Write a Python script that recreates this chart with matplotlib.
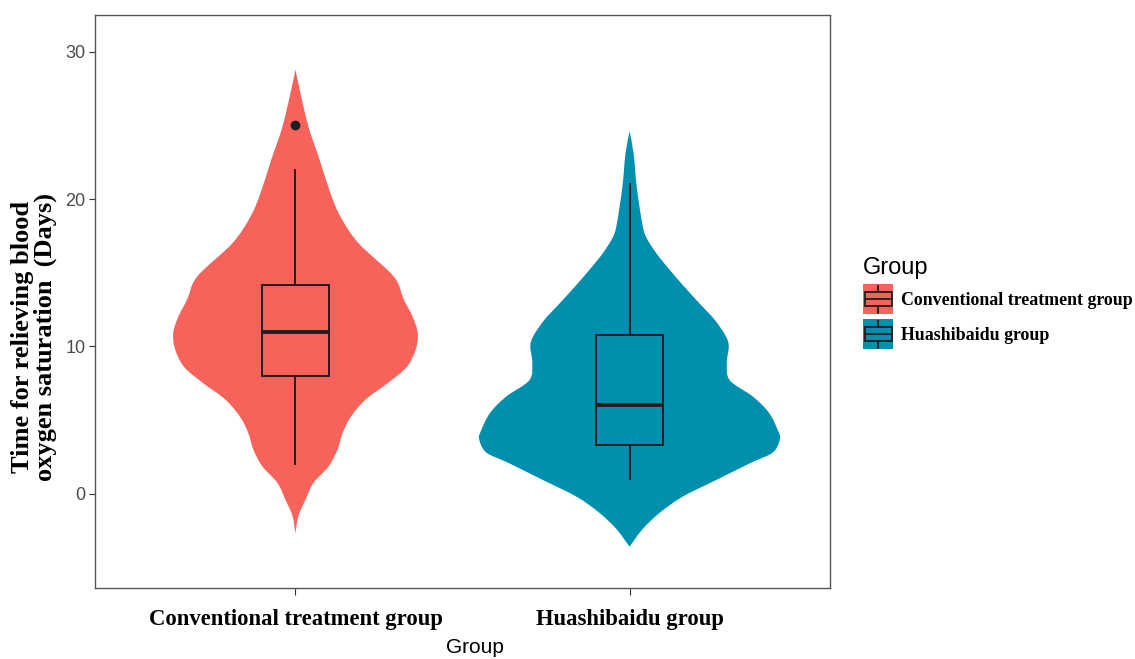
import numpy as np
import matplotlib
matplotlib.use("Agg")
import matplotlib.pyplot as plt
from matplotlib.patches import Rectangle, Patch, PathPatch
from matplotlib.path import Path
from matplotlib.lines import Line2D
from matplotlib.legend_handler import HandlerBase

# Groups and colours
groups = ["Conventional treatment group", "Huashibaidu group"]
colors = ["#F7625B", "#0090AE"]

# Violin outlines: value (days) and relative density width
conv_y = [28.8, 27.2, 24.9, 22.7, 20.4, 18.8, 17.0, 14.75, 13.2, 12.0, 10.9, 9.8,
          8.6, 7.5, 6.4, 5.2, 4.1, 3.0, 1.85, 0.74, -0.4, -1.5, -2.7]
conv_w = [0.0, 0.033, 0.087, 0.16, 0.233, 0.30, 0.42, 0.653, 0.72, 0.78, 0.813, 0.80,
          0.74, 0.613, 0.467, 0.367, 0.313, 0.28, 0.22, 0.12, 0.067, 0.02, 0.0]
huas_y = [24.6, 23.1, 20.9, 18.6, 17.5, 16.3, 15.2, 14.1, 12.9, 11.8, 10.7, 10.0,
          8.9, 7.7, 6.6, 5.5, 4.3, 3.7, 2.8, 2.1, 0.95, -0.2, -1.3, -2.4, -3.6]
huas_w = [0.0, 0.027, 0.047, 0.08, 0.107, 0.18, 0.267, 0.36, 0.467, 0.567, 0.64, 0.66,
          0.647, 0.667, 0.82, 0.927, 0.987, 1.0, 0.953, 0.807, 0.58, 0.353, 0.20, 0.087, 0.0]

# Box plot statistics
q1 = [8.0, 3.3]
medians = [11.0, 6.0]
q3 = [14.2, 10.8]
whisker_lo = [2.0, 1.0]
whisker_hi = [22.0, 21.0]
outliers = [[25.0], []]

violin_y = [conv_y, huas_y]
violin_w = [conv_w, huas_w]

SERIF = ["Liberation Serif", "DejaVu Serif"]
SANS = ["Liberation Sans", "DejaVu Sans"]
EDGE = "#1f1f1f"


def bezier_side(pts):
    """Catmull-Rom style curve through pts, as cubic bezier segments."""
    pts = np.asarray(pts, dtype=float)
    ext = np.vstack([pts[0], pts, pts[-1]])
    verts, codes = [], []
    for i in range(1, len(ext) - 2):
        p0, p1, p2, p3 = ext[i - 1], ext[i], ext[i + 1], ext[i + 2]
        verts += [p1 + (p2 - p0) / 6, p2 - (p3 - p1) / 6, p2]
        codes += [Path.CURVE4] * 3
    return verts, codes


def violin_path(pos, ys, ws, scale=0.45):
    ys = np.asarray(ys)
    hw = scale * np.asarray(ws)
    right = np.column_stack([pos + hw, ys])
    left = np.column_stack([pos - hw, ys])[::-1]
    v1, c1 = bezier_side(right)
    v2, c2 = bezier_side(left)
    verts = [right[0]] + v1 + v2 + [right[0]]
    codes = [Path.MOVETO] + c1 + c2 + [Path.CLOSEPOLY]
    return Path(verts, codes)


class BoxKeyHandler(HandlerBase):
    def __init__(self, color):
        super().__init__()
        self.color = color

    def create_artists(self, legend, orig_handle, xdescent, ydescent,
                       width, height, fontsize, trans):
        x0, y0 = -xdescent, -ydescent
        bg = Rectangle((x0, y0), width, height, facecolor=self.color,
                       edgecolor="none", transform=trans)
        bx = Rectangle((x0 + 0.05 * width, y0 + 0.28 * height), 0.9 * width,
                       0.44 * height, fill=False, edgecolor=EDGE, lw=1.3,
                       transform=trans)
        cx, cy = x0 + width / 2, y0 + height / 2
        med = Line2D([x0 + 0.05 * width, x0 + 0.95 * width], [cy, cy],
                     color=EDGE, lw=1.3, transform=trans)
        w1 = Line2D([cx, cx], [y0 + 0.72 * height, y0 + 0.95 * height],
                    color=EDGE, lw=1.3, transform=trans)
        w2 = Line2D([cx, cx], [y0 + 0.05 * height, y0 + 0.28 * height],
                    color=EDGE, lw=1.3, transform=trans)
        return [bg, bx, med, w1, w2]


fig = plt.figure(figsize=(11.35, 6.59), dpi=100)
ax = fig.add_axes([95 / 1135, 1 - 588 / 659, 735 / 1135, 573 / 659])

positions = [1, 2]
for pos, ys, ws, c in zip(positions, violin_y, violin_w, colors):
    ax.add_patch(PathPatch(violin_path(pos, ys, ws), facecolor=c,
                           edgecolor="none", zorder=1))

stats = []
for i in range(len(groups)):
    stats.append(dict(med=medians[i], q1=q1[i], q3=q3[i],
                      whislo=whisker_lo[i], whishi=whisker_hi[i],
                      fliers=outliers[i]))
bp = ax.bxp(stats, positions=positions, widths=0.2, patch_artist=True,
            showcaps=False,
            boxprops=dict(edgecolor=EDGE, linewidth=1.4),
            medianprops=dict(color=EDGE, linewidth=2.8),
            whiskerprops=dict(color=EDGE, linewidth=1.4),
            flierprops=dict(marker="o", markerfacecolor=EDGE,
                            markeredgecolor=EDGE, markersize=6),
            zorder=3)
for patch, c in zip(bp["boxes"], colors):
    patch.set_facecolor(c)

ax.set_xlim(0.4, 2.6)
ax.set_ylim(-6.4, 32.5)
ax.set_yticks([0, 10, 20, 30])
ax.set_xticks(positions)
ax.set_xticklabels(groups, fontfamily=SERIF, fontweight="bold", fontsize=16.3)
for lbl in ax.get_yticklabels():
    lbl.set_fontfamily(SANS)
ax.tick_params(axis="y", labelsize=13, labelcolor="#4D4D4D", color="#333333",
               length=4, width=0.8, pad=3)
ax.tick_params(axis="x", labelcolor="black", color="#333333", length=5,
               width=0.8, pad=10)
for sp in ax.spines.values():
    sp.set_color("#555555")
    sp.set_linewidth(1.0)

ax.set_xlabel("Group", fontfamily=SANS, fontsize=15)
ax.xaxis.set_label_coords((475 - 95) / 735, (588 - 638) / 573)
fig.text(34 / 1135, 1 - 337 / 659,
         "Time for relieving blood\noxygen saturation  (Days)",
         rotation=90, ha="center", va="center", multialignment="center",
         fontfamily=SERIF, fontweight="bold", fontsize=19, linespacing=0.95)

handles = [Patch(facecolor=c) for c in colors]
hmap = {h: BoxKeyHandler(c) for h, c in zip(handles, colors)}
leg = fig.legend(handles, groups, handler_map=hmap,
                 loc="upper left", bbox_to_anchor=(863 / 1135, 1 - 257 / 659),
                 bbox_transform=fig.transFigure, frameon=False,
                 prop=dict(family=SERIF, weight="bold", size=12.9),
                 title="Group", title_fontproperties=dict(family=SANS, size=17),
                 alignment="left", handlelength=1.68, handleheight=2.2,
                 handletextpad=0.45, labelspacing=0.28, borderpad=0,
                 borderaxespad=0)

fig.savefig("out.png", dpi=100)
